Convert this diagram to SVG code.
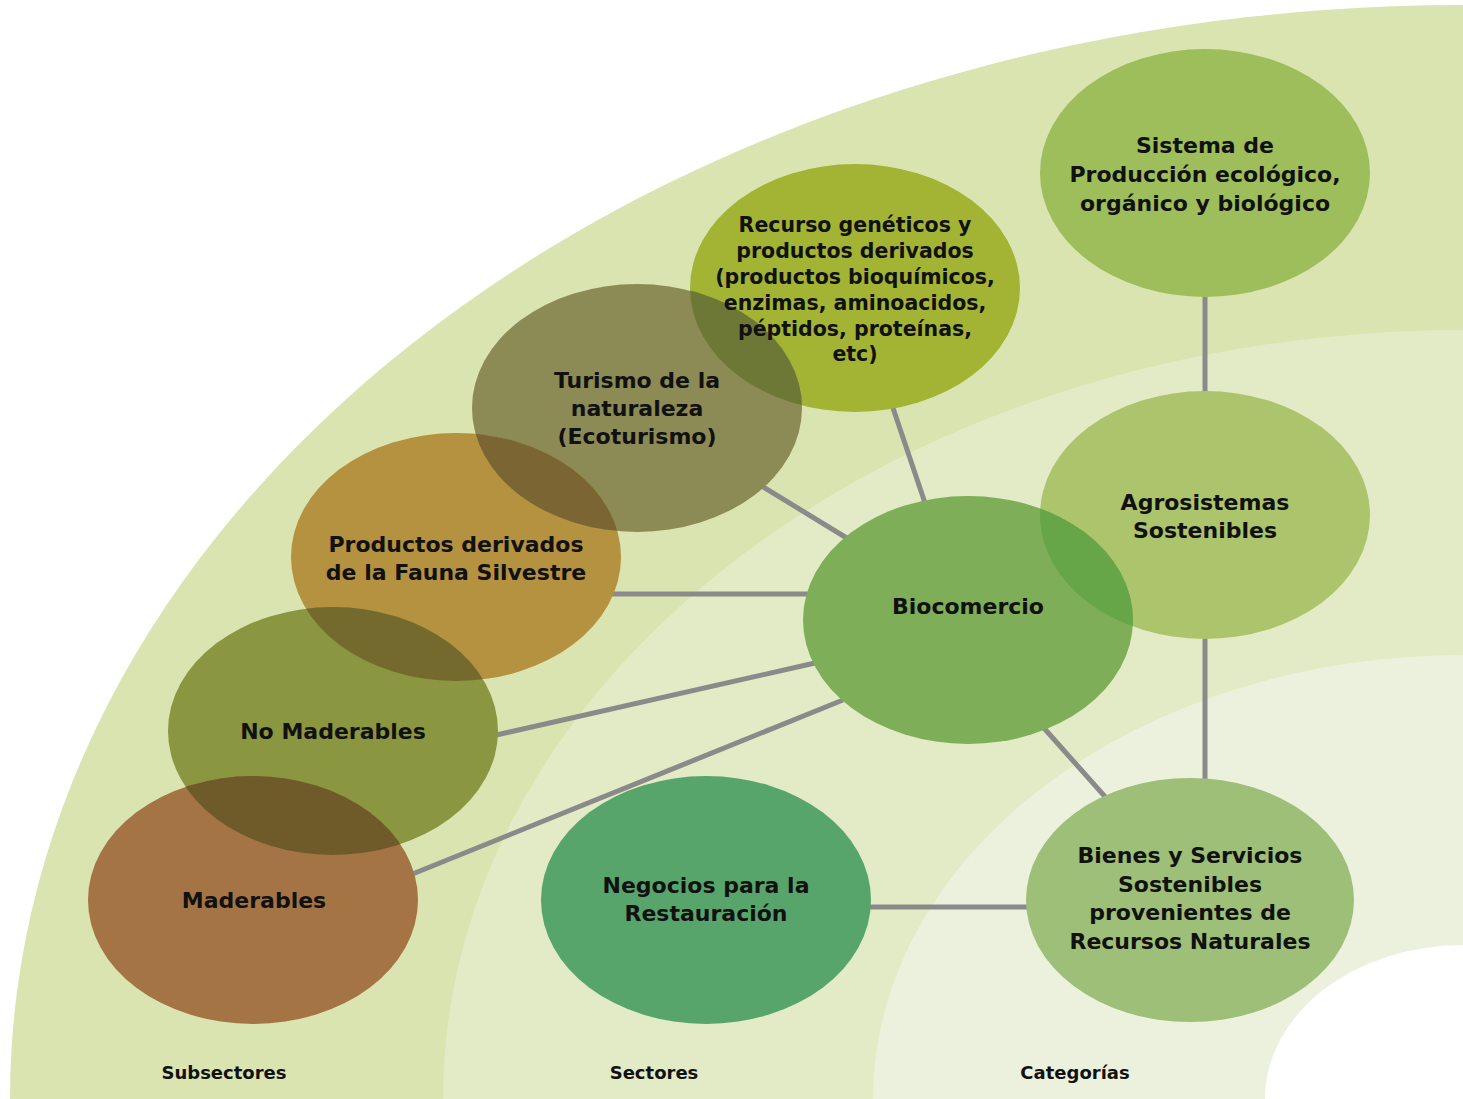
<svg xmlns="http://www.w3.org/2000/svg" width="1463" height="1099" viewBox="0 0 1463 1099">
<style>
.t{font-family:"DejaVu Sans","Open Sans",sans-serif;font-weight:700;font-size:22px;fill:#111;text-anchor:middle}
.s{font-size:20.5px}
.lab{font-size:18px}
.c{stroke:#8a8a8a;stroke-width:5;fill:none}
</style>
<defs>
<clipPath id="cRec"><ellipse cx="855" cy="288" rx="165" ry="124"/></clipPath>
<clipPath id="cTur"><ellipse cx="637" cy="408" rx="165" ry="124"/></clipPath>
<clipPath id="cPro"><ellipse cx="456" cy="557" rx="165" ry="124"/></clipPath>
<clipPath id="cNom"><ellipse cx="333" cy="731" rx="165" ry="124"/></clipPath>
<clipPath id="cAgr"><ellipse cx="1205" cy="515" rx="165" ry="124"/></clipPath>
</defs>
<rect width="1463" height="1099" fill="#ffffff"/>
<g id="background">
<ellipse cx="1463" cy="1099" rx="1453" ry="1094" fill="#dae4b0"/>
<ellipse cx="1463" cy="1099" rx="1020" ry="769" fill="#e3eac6"/>
<ellipse cx="1463" cy="1099" rx="590" ry="444" fill="#ecf1dd"/>
<ellipse cx="1463" cy="1099" rx="198" ry="154" fill="#ffffff"/>
</g>
<g id="connectors">
<line class="c" x1="1205" y1="290" x2="1205" y2="398"/>
<line class="c" x1="1205" y1="630" x2="1205" y2="785"/>
<line class="c" x1="892" y1="405" x2="925" y2="503"/>
<line class="c" x1="760" y1="485" x2="850" y2="540"/>
<line class="c" x1="610" y1="594" x2="810" y2="594"/>
<line class="c" x1="492" y1="736" x2="815" y2="663"/>
<line class="c" x1="410" y1="875" x2="843" y2="700"/>
<line class="c" x1="1043" y1="727" x2="1108" y2="800"/>
<line class="c" x1="865" y1="907" x2="1032" y2="907"/>
</g>
<g id="sistema">
<ellipse cx="1205" cy="173" rx="165" ry="124" fill="#9dbe5a"/>
<text class="t"><tspan x="1205" y="153">Sistema de</tspan><tspan x="1205" y="182">Producción ecológico,</tspan><tspan x="1205" y="211">orgánico y biológico</tspan></text>
</g>
<g id="recurso">
<ellipse cx="855" cy="288" rx="165" ry="124" fill="#a3b434"/>
</g>
<g id="turismo">
<ellipse cx="637" cy="408" rx="165" ry="124" fill="#8c8a55"/>
<ellipse cx="637" cy="408" rx="165" ry="124" fill="#6e7836" clip-path="url(#cRec)"/>
<text class="t"><tspan x="637" y="388">Turismo de la</tspan><tspan x="637" y="416">naturaleza</tspan><tspan x="637" y="444">(Ecoturismo)</tspan></text>
</g>
<g id="recurso-text">
<text class="t s"><tspan x="855" y="232">Recurso genéticos y</tspan><tspan x="855" y="258">productos derivados</tspan><tspan x="855" y="284">(productos bioquímicos,</tspan><tspan x="855" y="310">enzimas, aminoacidos,</tspan><tspan x="855" y="336">péptidos, proteínas,</tspan><tspan x="855" y="361">etc)</tspan></text>
</g>
<g id="productos">
<ellipse cx="456" cy="557" rx="165" ry="124" fill="#b4923f"/>
<ellipse cx="456" cy="557" rx="165" ry="124" fill="#7b6633" clip-path="url(#cTur)"/>
<text class="t"><tspan x="456" y="552">Productos derivados</tspan><tspan x="456" y="580">de la Fauna Silvestre</tspan></text>
</g>
<g id="nomaderables">
<ellipse cx="333" cy="731" rx="165" ry="124" fill="#8a9640"/>
<ellipse cx="333" cy="731" rx="165" ry="124" fill="#756a2d" clip-path="url(#cPro)"/>
<text class="t" x="333" y="739">No Maderables</text>
</g>
<g id="maderables">
<ellipse cx="253" cy="900" rx="165" ry="124" fill="#a57444"/>
<ellipse cx="253" cy="900" rx="165" ry="124" fill="#6f5a2a" clip-path="url(#cNom)"/>
<text class="t" x="254" y="908">Maderables</text>
</g>
<g id="agrosistemas">
<ellipse cx="1205" cy="515" rx="165" ry="124" fill="#acc46c"/>
<text class="t"><tspan x="1205" y="510">Agrosistemas</tspan><tspan x="1205" y="538">Sostenibles</tspan></text>
</g>
<g id="biocomercio">
<ellipse cx="968" cy="620" rx="165" ry="124" fill="#7fae58"/>
<ellipse cx="968" cy="620" rx="165" ry="124" fill="#67a648" clip-path="url(#cAgr)"/>
<text class="t" x="968" y="614">Biocomercio</text>
</g>
<g id="negocios">
<ellipse cx="706" cy="900" rx="165" ry="124" fill="#58a56c"/>
<text class="t"><tspan x="706" y="893">Negocios para la</tspan><tspan x="706" y="921">Restauración</tspan></text>
</g>
<g id="bienes">
<ellipse cx="1190" cy="900" rx="164" ry="122" fill="#9dbf77"/>
<text class="t"><tspan x="1190" y="863">Bienes y Servicios</tspan><tspan x="1190" y="892">Sostenibles</tspan><tspan x="1190" y="920">provenientes de</tspan><tspan x="1190" y="949">Recursos Naturales</tspan></text>
</g>
<g id="labels">
<text class="t lab" x="224" y="1079">Subsectores</text>
<text class="t lab" x="654" y="1079">Sectores</text>
<text class="t lab" x="1075" y="1079">Categorías</text>
</g>
</svg>
